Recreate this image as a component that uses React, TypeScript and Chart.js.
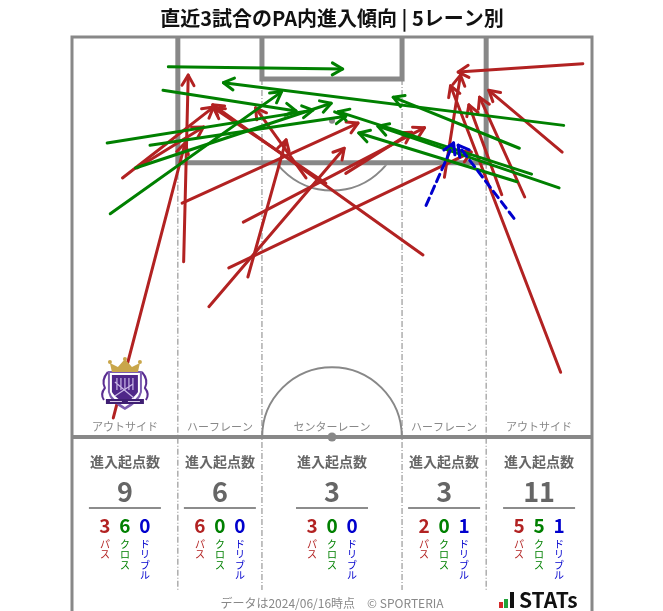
import React, { useEffect, useRef } from "react";
import { Chart, registerables } from "chart.js";

Chart.register(...registerables);

// ---------------- data ----------------
const TITLE = "直近3試合のPA内進入傾向 | 5レーン別";
const laneNames = ["アウトサイド", "ハーフレーン", "センターレーン", "ハーフレーン", "アウトサイド"];
const laneEdges = [0, 13.84, 24.84, 43.16, 54.16, 68];
const startCounts = [9, 6, 3, 3, 11];
const passCounts = [3, 6, 3, 2, 5];
const crossCounts = [6, 0, 0, 0, 5];
const dribbleCounts = [0, 0, 0, 1, 1];
const kindLabels = ["パス", "クロス", "ドリブル"];
const statLabel = "進入起点数";
const footerText = "データは2024/06/16時点　© SPORTERIA";
const logoText = "STATs";

// arrows: [startX, startY, endX, endY] in metres (x across the pitch, y from the goal line)
const passArrows = [
  [5.4, 50.0, 14.8, 13.9],
  [6.6, 18.5, 18.5, 9.2],
  [8.5, 17.2, 17.2, 11.8],
  [14.6, 29.5, 15.2, 5.0],
  [14.4, 21.8, 37.4, 11.3],
  [22.4, 24.3, 46.1, 11.9],
  [23.0, 31.5, 28.0, 13.5],
  [17.9, 35.4, 35.6, 14.6],
  [20.5, 30.3, 52.2, 15.1],
  [33.2, 19.2, 18.5, 9.3],
  [30.6, 18.5, 24.0, 9.3],
  [35.8, 17.9, 44.4, 12.5],
  [45.9, 28.6, 18.4, 8.9],
  [48.7, 18.4, 50.8, 5.0],
  [66.8, 3.5, 50.5, 4.6],
  [64.1, 15.1, 54.5, 7.0],
  [63.9, 44.0, 49.5, 6.4],
  [59.2, 21.0, 53.3, 7.9],
  [56.2, 20.7, 51.9, 8.9],
];
const crossArrows = [
  [12.6, 3.9, 35.4, 4.2],
  [11.9, 7.0, 29.3, 9.7],
  [4.6, 13.9, 31.5, 9.6],
  [10.2, 14.2, 35.8, 10.4],
  [8.3, 17.2, 33.9, 8.7],
  [5.0, 23.2, 27.4, 7.2],
  [64.3, 11.6, 19.8, 6.0],
  [58.5, 14.6, 42.0, 7.9],
  [60.1, 18.0, 34.8, 9.8],
  [58.2, 19.0, 37.5, 12.6],
  [63.7, 19.8, 40.0, 11.7],
];
const dribbleArrows = [
  [46.3, 22.1, 49.9, 13.9],
  [57.8, 23.8, 50.5, 14.2],
];

const PASS_COLOR = "#b22222";
const CROSS_COLOR = "#008000";
const DRIBBLE_COLOR = "#0000cd";
const FONT = "'Noto Sans CJK JP', 'Noto Sans', sans-serif";

const PITCH_W = 68;
const HALF_L = 52.5;

function makeSets(arr: number[][], color: string, dash: number[]) {
  return arr.map((a) => ({
    data: [
      { x: a[0], y: a[1] },
      { x: a[2], y: a[3] },
    ],
    showLine: true,
    borderColor: color,
    backgroundColor: color,
    borderWidth: 3,
    borderDash: dash,
    borderCapStyle: "round" as const,
    pointRadius: 0,
    pointHoverRadius: 0,
    fill: false,
  }));
}

const arrowPlugin = {
  id: "arrowHeads",
  afterDatasetDraw(chart: any, args: any) {
    const ctx = chart.ctx;
    const ds = chart.data.datasets[args.index];
    const pts = args.meta.data;
    if (!pts || pts.length < 2) return;
    const p0 = pts[0];
    const p1 = pts[pts.length - 1];
    const ang = Math.atan2(p1.y - p0.y, p1.x - p0.x);
    const L = 12;
    const A = Math.PI / 6;
    ctx.save();
    ctx.strokeStyle = ds.borderColor;
    ctx.lineWidth = ds.borderWidth;
    ctx.lineCap = "round";
    ctx.lineJoin = "round";
    ctx.setLineDash([]);
    ctx.beginPath();
    ctx.moveTo(p1.x - L * Math.cos(ang - A), p1.y - L * Math.sin(ang - A));
    ctx.lineTo(p1.x, p1.y);
    ctx.lineTo(p1.x - L * Math.cos(ang + A), p1.y - L * Math.sin(ang + A));
    ctx.stroke();
    ctx.restore();
  },
};

function drawCrest(ctx: CanvasRenderingContext2D, cx: number, top: number) {
  ctx.save();
  ctx.lineJoin = "round";
  // side flourishes
  ctx.strokeStyle = "#5a2d91";
  ctx.lineWidth = 2;
  for (const s of [-1, 1]) {
    ctx.beginPath();
    ctx.moveTo(cx + s * 17, top + 14);
    ctx.quadraticCurveTo(cx + s * 24, top + 22, cx + s * 20, top + 30);
    ctx.quadraticCurveTo(cx + s * 25, top + 36, cx + s * 21, top + 42);
    ctx.stroke();
  }
  // shield outline (white + lavender)
  const shield = (w: number, t: number, b: number) => {
    ctx.beginPath();
    ctx.moveTo(cx - w, top + t);
    ctx.lineTo(cx + w, top + t);
    ctx.lineTo(cx + w, top + 34);
    ctx.quadraticCurveTo(cx + w - 2, top + b - 8, cx, top + b);
    ctx.quadraticCurveTo(cx - w + 2, top + b - 8, cx - w, top + 34);
    ctx.closePath();
  };
  shield(17, 13, 52);
  ctx.fillStyle = "#7b5bb0";
  ctx.fill();
  shield(15, 15, 49);
  ctx.fillStyle = "#ffffff";
  ctx.fill();
  shield(13, 17, 46);
  ctx.fillStyle = "#4f2789";
  ctx.fill();
  // inner marks
  ctx.strokeStyle = "#c9b8e6";
  ctx.lineWidth = 1.2;
  ctx.beginPath();
  for (let k = -2; k <= 2; k++) {
    ctx.moveTo(cx + k * 4, top + 20);
    ctx.lineTo(cx + k * 4, top + 32);
  }
  ctx.moveTo(cx - 10, top + 24);
  ctx.lineTo(cx + 9, top + 40);
  ctx.moveTo(cx - 10, top + 38);
  ctx.lineTo(cx + 8, top + 26);
  ctx.stroke();
  // ribbon
  ctx.fillStyle = "#3f1f73";
  ctx.fillRect(cx - 19, top + 41, 38, 5);
  ctx.fillStyle = "#d8cce9";
  ctx.fillRect(cx - 15, top + 43, 12, 1);
  ctx.fillRect(cx + 3, top + 43, 12, 1);
  // crown
  ctx.fillStyle = "#c9a64a";
  ctx.beginPath();
  ctx.moveTo(cx - 13, top + 14);
  ctx.lineTo(cx - 15, top + 5);
  ctx.lineTo(cx - 7, top + 9);
  ctx.lineTo(cx, top + 1);
  ctx.lineTo(cx + 7, top + 9);
  ctx.lineTo(cx + 15, top + 5);
  ctx.lineTo(cx + 13, top + 14);
  ctx.closePath();
  ctx.fill();
  for (const dx of [-15, 0, 15]) {
    ctx.beginPath();
    ctx.arc(cx + dx, top + (dx === 0 ? 1 : 4), 2, 0, Math.PI * 2);
    ctx.fill();
  }
  ctx.restore();
}

const pitchPlugin = {
  id: "pitch",
  beforeDatasetsDraw(chart: any) {
    const ctx: CanvasRenderingContext2D = chart.ctx;
    const xs = chart.scales.x;
    const ys = chart.scales.y;
    const X = (v: number) => xs.getPixelForValue(v);
    const Y = (v: number) => ys.getPixelForValue(v);
    const bottom = Y(HALF_L);
    const statsEnd = bottom + 153;
    ctx.save();

    // lane separators
    ctx.strokeStyle = "#999";
    ctx.lineWidth = 1.2;
    ctx.setLineDash([6, 2, 1, 2]);
    for (let i = 1; i < laneEdges.length - 1; i++) {
      const sy = i === 1 || i === laneEdges.length - 2 ? Y(16.5) : Y(5.5);
      ctx.beginPath();
      ctx.moveTo(X(laneEdges[i]), sy);
      ctx.lineTo(X(laneEdges[i]), statsEnd);
      ctx.stroke();
    }
    ctx.setLineDash([]);

    // outer frame
    ctx.strokeStyle = "#888";
    ctx.lineWidth = 3;
    ctx.beginPath();
    ctx.moveTo(X(0), chart.height + 5);
    ctx.lineTo(X(0), Y(0));
    ctx.lineTo(X(PITCH_W), Y(0));
    ctx.lineTo(X(PITCH_W), chart.height + 5);
    ctx.stroke();

    // penalty box
    ctx.strokeStyle = "#888";
    ctx.lineWidth = 5;
    ctx.lineJoin = "miter";
    ctx.beginPath();
    ctx.moveTo(X(13.84), Y(0));
    ctx.lineTo(X(13.84), Y(16.5));
    ctx.lineTo(X(54.16), Y(16.5));
    ctx.lineTo(X(54.16), Y(0));
    ctx.stroke();
    // goal area
    ctx.beginPath();
    ctx.moveTo(X(24.84), Y(0));
    ctx.lineTo(X(24.84), Y(5.5));
    ctx.lineTo(X(43.16), Y(5.5));
    ctx.lineTo(X(43.16), Y(0));
    ctx.stroke();

    // penalty spot
    ctx.fillStyle = "#888";
    ctx.beginPath();
    ctx.arc(X(34), Y(11), 3, 0, Math.PI * 2);
    ctx.fill();

    // penalty arc
    const r = Y(9.15) - Y(0);
    ctx.save();
    ctx.beginPath();
    ctx.rect(0, Y(16.5) + 2.5, chart.width, 200);
    ctx.clip();
    ctx.lineWidth = 2;
    ctx.beginPath();
    ctx.arc(X(34), Y(11), r, 0, Math.PI);
    ctx.stroke();
    ctx.restore();

    // centre circle
    const rc = (X(9.15) - X(0) + r) / 2;
    ctx.lineWidth = 2;
    ctx.beginPath();
    ctx.arc(X(34), bottom, rc, Math.PI, Math.PI * 2);
    ctx.stroke();

    // halfway line
    ctx.lineWidth = 4;
    ctx.beginPath();
    ctx.moveTo(X(0), bottom);
    ctx.lineTo(X(PITCH_W), bottom);
    ctx.stroke();
    ctx.beginPath();
    ctx.arc(X(34), bottom, 4.5, 0, Math.PI * 2);
    ctx.fill();

    // lane labels
    ctx.fillStyle = "#888";
    ctx.font = `11px ${FONT}`;
    ctx.textAlign = "center";
    ctx.textBaseline = "middle";
    for (let i = 0; i < laneNames.length; i++) {
      const cx = X((laneEdges[i] + laneEdges[i + 1]) / 2);
      ctx.fillText(laneNames[i], cx, bottom - 10);
    }

    // stats
    const colors = [PASS_COLOR, CROSS_COLOR, DRIBBLE_COLOR];
    for (let i = 0; i < laneNames.length; i++) {
      const cx = X((laneEdges[i] + laneEdges[i + 1]) / 2);
      ctx.fillStyle = "#666";
      ctx.font = `bold 14px ${FONT}`;
      ctx.fillText(statLabel, cx, bottom + 25);
      ctx.font = `bold 27px ${FONT}`;
      ctx.fillText(String(startCounts[i]), cx, bottom + 55);
      ctx.strokeStyle = "#666";
      ctx.lineWidth = 1.5;
      ctx.beginPath();
      ctx.moveTo(cx - 36, bottom + 71);
      ctx.lineTo(cx + 36, bottom + 71);
      ctx.stroke();
      const vals = [passCounts[i], crossCounts[i], dribbleCounts[i]];
      for (let k = 0; k < 3; k++) {
        const kx = cx + (k - 1) * 20;
        ctx.fillStyle = colors[k];
        ctx.font = `bold 19px ${FONT}`;
        ctx.fillText(String(vals[k]), kx, bottom + 89);
        ctx.font = `10px ${FONT}`;
        const chars = Array.from(kindLabels[k]);
        chars.forEach((ch, j) => {
          ctx.fillText(ch, kx, bottom + 107 + j * 10.5);
        });
      }
    }
    ctx.restore();
  },
  afterDatasetsDraw(chart: any) {
    const xs = chart.scales.x;
    const ys = chart.scales.y;
    drawCrest(chart.ctx, xs.getPixelForValue((laneEdges[0] + laneEdges[1]) / 2), ys.getPixelForValue(HALF_L) - 79);
  },
  afterDraw(chart: any) {
    const ctx: CanvasRenderingContext2D = chart.ctx;
    const xs = chart.scales.x;
    const ys = chart.scales.y;
    const cx = xs.getPixelForValue(PITCH_W / 2);
    const bottom = ys.getPixelForValue(HALF_L);
    ctx.save();
    ctx.textAlign = "center";
    ctx.textBaseline = "middle";
    // title
    ctx.fillStyle = "#111";
    ctx.font = `bold 20px ${FONT}`;
    ctx.fillText(TITLE, cx, 18);
    // footer
    ctx.fillStyle = "#888";
    ctx.font = `12px ${FONT}`;
    ctx.fillText(footerText, cx, bottom + 166);
    // logo
    const lx = xs.getPixelForValue(PITCH_W) - 93;
    const ly = bottom + 171;
    ctx.fillStyle = "#d42a2a";
    ctx.fillRect(lx, ly - 6, 4, 6);
    ctx.fillStyle = "#22a33a";
    ctx.fillRect(lx + 5, ly - 9, 4, 9);
    ctx.fillStyle = "#111";
    ctx.fillRect(lx + 11, ly - 16, 4, 16);
    ctx.font = `bold 21px ${FONT}`;
    ctx.textAlign = "left";
    ctx.textBaseline = "alphabetic";
    ctx.fillText(logoText, lx + 20, ly);
    ctx.restore();
  },
};

export default function App() {
  const ref = useRef<HTMLCanvasElement>(null);
  useEffect(() => {
    if (!ref.current) return;
    const chart = new Chart(ref.current, {
      type: "scatter",
      data: {
        datasets: [
          ...makeSets(dribbleArrows, DRIBBLE_COLOR, [8, 5]),
          ...makeSets(crossArrows, CROSS_COLOR, []),
          ...makeSets(passArrows, PASS_COLOR, []),
        ],
      },
      options: {
        animation: false,
        responsive: false,
        devicePixelRatio: 1,
        layout: { padding: { left: 72, top: 37, right: 71, bottom: 174 } },
        scales: {
          x: { type: "linear", min: 0, max: PITCH_W, display: false },
          y: { type: "linear", min: 0, max: HALF_L, reverse: true, display: false },
        },
        plugins: {
          legend: { display: false },
          tooltip: { enabled: false },
        },
        events: [],
      },
      plugins: [pitchPlugin, arrowPlugin],
    } as any);
    return () => chart.destroy();
  }, []);
  return (
    <div style={{ position: "fixed", left: 0, top: 0, width: 663, height: 611, background: "#fff" }}>
      <canvas ref={ref} width={663} height={611} />
    </div>
  );
}
